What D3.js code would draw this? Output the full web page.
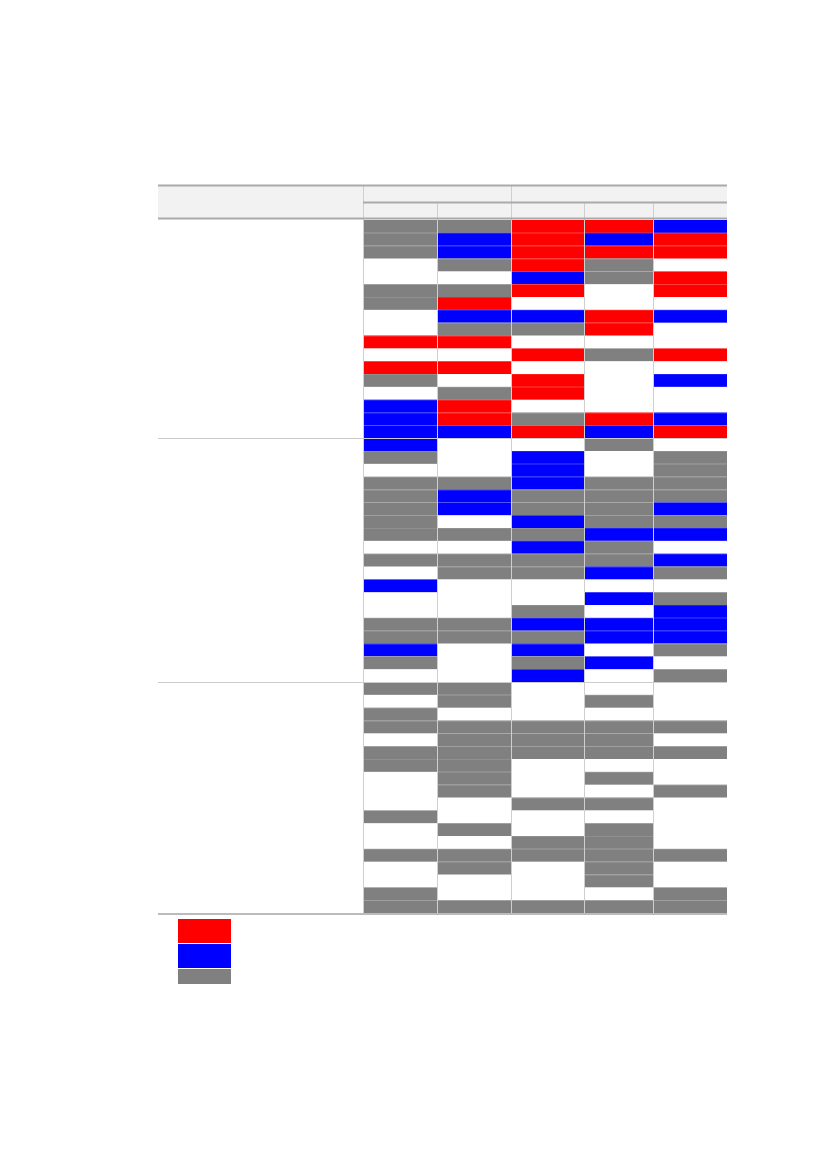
<!DOCTYPE html>
<html>
<head>
<meta charset="utf-8">
<script src="https://cdn.jsdelivr.net/npm/d3@7"></script>
<style>
  html, body { margin: 0; padding: 0; background: #fff; }
  svg { display: block; }
</style>
</head>
<body>
<svg id="chart" width="827" height="1169"></svg>
<script>
// ---------------- DATA ----------------
// status codes: W = none, R = up (red), B = down (blue), G = neutral (gray)
const columns = ["c1", "c2", "c3", "c4", "c5"];
const headerGroups = [
  { label: "", from: 0, to: 1 },
  { label: "", from: 2, to: 4 }
];
const groups = ["g1", "g2", "g3"];

const group1 = {
  c1: "GGGWWGGWWRWRGWBBB",
  c2: "GBBGWGRBGRWRWGRRB",
  c3: "RRRRBRWBGWRWRRWGR",
  c4: "RBRGGWWRRWGWWWWRB",
  c5: "BRRWRRWBWWRWBWWBR"
};
const group2 = {
  c1: "BGWGGGGGWGWBWWGGBGW",
  c2: "WWWGBBWGWGGWWWGGWWW",
  c3: "WBBBGGBGBGGWWGBGBGB",
  c4: "GWWGGGGBGGBWBWBBWBW",
  c5: "WGGGGBGBWBGWGBBBGWG"
};
const group3 = {
  c1: "GWGGWGGWWWGWWGWWGG",
  c2: "GGWGGGGGGWWGWGGWWG",
  c3: "WWWGGGWWWGWWGGWWWG",
  c4: "WGWGGGWGWGWGGGGGWG",
  c5: "WWWGWGWWGWWWWGWWGG"
};
const groupData = [group1, group2, group3];
const legendKeys = ["R", "B", "G"];

// ---------------- LAYOUT ----------------
const tableLeft = 158, tableRight = 727;
const colEdges = [363, 437, 511, 584, 653, 727];
const headerTop = 185, headerMid = 202.5, headerBottom = 219;
const bodyTop = 220, bodyBottom = 913;
const colorOf = { R: "#ff0000", B: "#0000ff", G: "#808080", W: "#ffffff" };

// build rows
const rows = [];
const groupStarts = [];
groupData.forEach((g, gi) => {
  const n = g.c1.length;
  groupStarts.push(rows.length);
  for (let i = 0; i < n; i++) {
    rows.push({ group: groups[gi], idx: i, values: columns.map(c => g[c][i]) });
  }
});
const nRows = rows.length;

const svg = d3.select("#chart");

const y = d3.scaleLinear().domain([0, nRows]).range([bodyTop, bodyBottom]);
const xCol = d3.scaleOrdinal().domain(columns).range(colEdges.slice(0, 5));
const wCol = d3.scaleOrdinal().domain(columns).range(colEdges.slice(1).map((e, i) => e - colEdges[i]));

// header background
svg.append("rect")
  .attr("x", tableLeft).attr("y", headerTop)
  .attr("width", tableRight - tableLeft).attr("height", headerBottom - headerTop)
  .attr("fill", "#f2f2f2");

// body cells
const cells = [];
rows.forEach((r, ri) => r.values.forEach((v, ci) => cells.push({ ri, col: columns[ci], v })));
svg.append("g").selectAll("rect")
  .data(cells.filter(d => d.v !== "W"))
  .join("rect")
  .attr("x", d => xCol(d.col))
  .attr("y", d => y(d.ri))
  .attr("width", d => wCol(d.col))
  .attr("height", d => y(d.ri + 1) - y(d.ri))
  .attr("fill", d => colorOf[d.v]);

// faint row lines
svg.append("g").selectAll("line")
  .data(d3.range(1, nRows))
  .join("line")
  .attr("x1", colEdges[0]).attr("x2", tableRight)
  .attr("y1", d => Math.round(y(d)) + 0.5).attr("y2", d => Math.round(y(d)) + 0.5)
  .attr("stroke", "#ffffff").attr("stroke-opacity", 0.12).attr("stroke-width", 1);

// vertical column lines (body)
svg.append("g").selectAll("line")
  .data(colEdges.slice(0, 5))
  .join("line")
  .attr("x1", d => d + 0.5).attr("x2", d => d + 0.5)
  .attr("y1", headerTop).attr("y2", bodyBottom)
  .attr("stroke", "#cfcfcf").attr("stroke-width", 1)
  .attr("y1", (d, i) => (i === 0 || i === 2) ? headerTop : headerMid);

// group separators
svg.append("g").selectAll("line")
  .data(groupStarts.slice(1))
  .join("line")
  .attr("x1", tableLeft).attr("x2", tableRight)
  .attr("y1", d => Math.round(y(d)) + 0.5).attr("y2", d => Math.round(y(d)) + 0.5)
  .attr("stroke", "#cccccc").attr("stroke-width", 1);

// header rules
svg.append("line").attr("x1", tableLeft).attr("x2", tableRight)
  .attr("y1", headerTop + 0.5).attr("y2", headerTop + 0.5)
  .attr("stroke", "#aaaaaa").attr("stroke-width", 2);
svg.append("line").attr("x1", colEdges[0]).attr("x2", tableRight)
  .attr("y1", headerMid).attr("y2", headerMid)
  .attr("stroke", "#aaaaaa").attr("stroke-width", 2);
svg.append("line").attr("x1", tableLeft).attr("x2", tableRight)
  .attr("y1", headerBottom - 0.5).attr("y2", headerBottom - 0.5)
  .attr("stroke", "#aaaaaa").attr("stroke-width", 2);
// bottom rule
svg.append("line").attr("x1", tableLeft).attr("x2", tableRight)
  .attr("y1", bodyBottom + 1).attr("y2", bodyBottom + 1)
  .attr("stroke", "#bbbbbb").attr("stroke-width", 2);

// legend
const legendY = [919, 944, 969];
const legendH = [24, 24, 15];
svg.append("g").selectAll("rect")
  .data(legendKeys)
  .join("rect")
  .attr("x", 178)
  .attr("y", (d, i) => legendY[i])
  .attr("width", 53)
  .attr("height", (d, i) => legendH[i])
  .attr("fill", d => colorOf[d]);
</script>
</body>
</html>
